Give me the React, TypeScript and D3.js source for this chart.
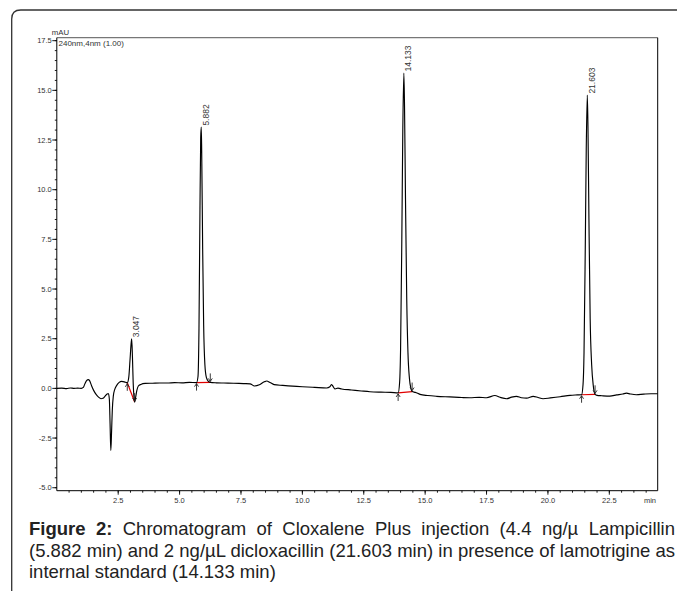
import React, { useLayoutEffect, useRef, useState } from 'react';
import * as d3 from 'd3';

const W = 677;
const H = 591;

// Chromatogram trace (minutes, mAU)
const TRACE_TIME = [
  0.0, 0.2, 0.4, 0.55, 0.7, 0.85, 1.0, 1.08, 1.15, 1.22, 1.28, 1.34, 1.42, 1.5, 1.6, 1.7, 1.8, 1.88, 1.96,
  2.05, 2.1, 2.14, 2.17, 2.2, 2.23, 2.26, 2.3, 2.36, 2.44, 2.54, 2.64, 2.75, 2.87, 2.93, 2.98, 3.03, 3.05,
  3.08, 3.11, 3.14, 3.17, 3.21, 3.26, 3.32, 3.42, 3.6, 3.9, 4.2, 4.5, 4.8, 5.1, 5.4, 5.69, 5.75, 5.79, 5.83,
  5.86, 5.882, 5.9, 5.94, 5.98, 6.03, 6.09, 6.17, 6.25, 6.5, 6.8, 7.2, 7.6, 7.87, 8.05, 8.25, 8.45, 8.55,
  8.68, 8.85, 9.2, 9.6, 10.0, 10.5, 10.99, 11.12, 11.19, 11.26, 11.33, 11.45, 11.6, 12.0, 12.4, 12.75,
  13.2, 13.6, 13.9, 13.96, 14.0, 14.05, 14.09, 14.133, 14.16, 14.2, 14.25, 14.3, 14.36, 14.42, 14.47,
  14.6, 14.79, 15.1, 15.47, 16.0, 16.5, 16.82, 17.2, 17.5, 17.84, 18.05, 18.32, 18.52, 18.72, 18.92,
  19.13, 19.4, 19.6, 19.8, 20.1, 20.5, 20.9, 21.2, 21.37, 21.43, 21.47, 21.52, 21.56, 21.603, 21.63,
  21.67, 21.72, 21.78, 21.85, 21.92, 22.0, 22.2, 22.52, 22.8, 23.05, 23.2, 23.35, 23.6, 23.9, 24.2, 24.47,
];
const TRACE_MAU = [
  0.0, 0.01, -0.01, 0.02, 0.0, 0.01, 0.0, 0.05, 0.25, 0.4, 0.44, 0.38, 0.12, -0.1, -0.3, -0.44, -0.52, -0.5, -0.4,
  -0.28, -0.26, -0.55, -1.8, -3.12, -2.2, -1.1, -0.4, -0.05, 0.15, 0.3, 0.35, 0.33, 0.28, 0.55, 1.4, 2.3, 2.5,
  1.6, 0.3, -0.4, -0.69, -0.45, -0.1, 0.12, 0.2, 0.25, 0.26, 0.27, 0.27, 0.29, 0.28, 0.3, 0.29, 0.6, 3.0, 9.0,
  12.6, 13.15, 12.0, 7.0, 3.2, 1.2, 0.55, 0.35, 0.3, 0.28, 0.27, 0.26, 0.24, 0.23, 0.12, 0.18, 0.33, 0.37,
  0.3, 0.19, 0.15, 0.11, 0.08, 0.05, 0.02, 0.08, 0.19, 0.08, -0.03, 0.01, -0.03, -0.08, -0.13, -0.17,
  -0.19, -0.2, -0.23, 0.3, 2.0, 7.5, 13.0, 15.87, 14.2, 9.5, 4.5, 1.8, 0.5, 0.0, -0.16,
  -0.2, -0.3, -0.36, -0.4, -0.43, -0.46, -0.47, -0.45, -0.47, -0.36, -0.45, -0.52, -0.44, -0.4, -0.47,
  -0.49, -0.4, -0.46, -0.52, -0.48, -0.42, -0.35, -0.33, -0.32, 0.2, 1.8, 7.0, 12.0, 14.76, 13.2,
  8.5, 3.5, 1.2, 0.1, -0.3, -0.35, -0.37, -0.39, -0.33, -0.28, -0.24, -0.28, -0.32, -0.29, -0.27, -0.27,
];

const PEAK_RT = [3.047, 5.882, 14.133, 21.603];
const PEAK_TOP = [2.5, 13.15, 15.87, 14.76];
const PEAK_LABELS = ['3.047', '5.882', '14.133', '21.603'];
const BASE_START_T = [2.87, 5.69, 13.9, 21.37];
const BASE_START_V = [0.28, 0.29, -0.23, -0.32];
const BASE_END_T = [3.17, 6.25, 14.47, 21.92];
const BASE_END_V = [-0.69, 0.3, -0.16, -0.3];

const Y_TICKS = [-5.0, -2.5, 0.0, 2.5, 5.0, 7.5, 10.0, 12.5, 15.0, 17.5];
const X_TICKS = [2.5, 5.0, 7.5, 10.0, 12.5, 15.0, 17.5, 20.0, 22.5];

const CAPTION_1_BOLD = 'Figure 2:';
const CAPTION_1 = ' Chromatogram of Cloxalene Plus injection (4.4 ng/µ Lampicillin';
const CAPTION_2 = '(5.882 min) and 2 ng/µL dicloxacillin (21.603 min) in presence of lamotrigine as';
const CAPTION_3 = 'internal standard (14.133 min)';

const FONT = '"Liberation Sans", Arial, Helvetica, sans-serif';

export default function App() {
  const x = d3.scaleLinear().domain([0, 24.47]).range([56.8, 657.7]);
  const y = d3.scaleLinear().domain([-5.15, 17.65]).range([490.7, 37.7]);
  const [x0, x1] = x.range();
  const [yb, yt] = y.range();

  const pts: [number, number][] = TRACE_TIME.map((t, i) => [t, TRACE_MAU[i]]);
  const line = d3
    .line<[number, number]>()
    .x((d) => x(d[0]))
    .y((d) => y(d[1]))
    .curveMonotoneX ? null : null;
  const path = d3
    .line<[number, number]>()
    .x((d) => x(d[0]))
    .y((d) => y(d[1]))
    .curve(d3.curveMonotoneX)(pts) as string;

  const yMinor = d3.range(-5.0, 17.51, 0.5);
  const xMinor = d3.range(0.5, 24.3, 0.5);

  const l1 = useRef<SVGTextElement>(null);
  const l2 = useRef<SVGTextElement>(null);
  const [ws, setWs] = useState<[number, number]>([0, 0]);
  const capX0 = 29;
  const capX1 = 675;
  useLayoutEffect(() => {
    const res: [number, number] = [0, 0];
    [l1, l2].forEach((r, i) => {
      const el = r.current;
      if (!el) return;
      const txt = el.textContent || '';
      const spaces = (txt.match(/ /g) || []).length;
      const w = el.getComputedTextLength();
      res[i] = spaces ? (capX1 - capX0 - w) / spaces : 0;
    });
    setWs(res);
  }, []);

  const tickFont = 7.5;

  return (
    <svg
      width={W}
      height={H}
      viewBox={`0 0 ${W} ${H}`}
      style={{ position: 'absolute', left: 0, top: 0, background: '#fff' }}
      fontFamily={FONT}
    >
      <rect x={0} y={0} width={W} height={H} fill="#fff" />
      {/* outer figure frame */}
      <path d={`M11.7,${H} L11.7,19 Q11.7,10 20.7,10 L${W},10`} fill="none" stroke="#333" strokeWidth={1.3} />

      {/* plot frame */}
      <line x1={x0} x2={x1} y1={yt} y2={yt} stroke="#777" strokeWidth={1.3} />
      <line x1={x1} x2={x1} y1={yt} y2={yb} stroke="#000" strokeWidth={1} />
      <line x1={x0} x2={x1} y1={yb} y2={yb} stroke="#000" strokeWidth={1} />
      <line x1={x0} x2={x0} y1={yt} y2={yb} stroke="#000" strokeWidth={1} />

      {/* y ticks */}
      {yMinor.map((v) => (
        <line key={'ym' + v} x1={x0 - 2} x2={x0} y1={y(v)} y2={y(v)} stroke="#000" strokeWidth={0.9} />
      ))}
      {Y_TICKS.map((v) => (
        <g key={'y' + v}>
          <line x1={x0 - 4.5} x2={x0} y1={y(v)} y2={y(v)} stroke="#000" strokeWidth={0.9} />
          <text x={x0 - 5} y={y(v) + 2.6} fontSize={tickFont} textAnchor="end" fill="#333">
            {v.toFixed(1)}
          </text>
        </g>
      ))}
      {/* x ticks */}
      {xMinor.map((v) => (
        <line key={'xm' + v} x1={x(v)} x2={x(v)} y1={yb} y2={yb + 2} stroke="#000" strokeWidth={0.9} />
      ))}
      {X_TICKS.map((v) => (
        <g key={'x' + v}>
          <line x1={x(v)} x2={x(v)} y1={yb} y2={yb + 4} stroke="#000" strokeWidth={0.9} />
          <text x={x(v)} y={yb + 12.5} fontSize={tickFont} textAnchor="middle" fill="#333">
            {v.toFixed(1)}
          </text>
        </g>
      ))}
      <text x={650} y={yb + 12.5} fontSize={tickFont} textAnchor="middle" fill="#333">
        min
      </text>
      <text x={51.7} y={35} fontSize={7.8} fill="#333">
        mAU
      </text>
      <text x={58.5} y={46.2} fontSize={8} fill="#333">
        240nm,4nm (1.00)
      </text>

      {/* red integration baselines */}
      {PEAK_RT.map((_, i) => (
        <line
          key={'b' + i}
          x1={x(BASE_START_T[i])}
          y1={y(BASE_START_V[i])}
          x2={x(BASE_END_T[i])}
          y2={y(BASE_END_V[i])}
          stroke="#e00000"
          strokeWidth={1.2}
        />
      ))}

      {/* trace */}
      <path d={path} fill="none" stroke="#000" strokeWidth={1.15} strokeLinejoin="round" />

      {/* integration markers */}
      {PEAK_RT.map((_, i) => {
        const sx = x(BASE_START_T[i]);
        const sy = y(BASE_START_V[i]);
        const ex = x(BASE_END_T[i]);
        const ey = y(BASE_END_V[i]);
        return (
          <g key={'m' + i} stroke="#222" strokeWidth={0.9} fill="none">
            <line x1={sx} x2={sx} y1={sy + 1} y2={sy + 8} />
            <polyline points={`${sx - 2},${sy + 4} ${sx},${sy + 1} ${sx + 2},${sy + 4}`} />
            <line x1={ex} x2={ex} y1={ey - 9} y2={ey - 1} />
            <polyline points={`${ex - 2},${ey - 4} ${ex},${ey - 1} ${ex + 2},${ey - 4}`} />
          </g>
        );
      })}

      {/* peak labels */}
      {PEAK_RT.map((t, i) => {
        const px = x(t) + 7.5;
        const py = y(PEAK_TOP[i]) - 1.5;
        return (
          <text
            key={'l' + i}
            transform={`translate(${px},${py}) rotate(-90)`}
            fontSize={8.5}
            fill="#333"
          >
            {PEAK_LABELS[i]}
          </text>
        );
      })}

      {/* caption */}
      <text ref={l1} x={capX0} y={535} fontSize={18.5} fill="#222" wordSpacing={ws[0]}>
        <tspan fontWeight="bold">{CAPTION_1_BOLD}</tspan>
        {CAPTION_1}
      </text>
      <text ref={l2} x={capX0} y={556.5} fontSize={18.5} fill="#222" wordSpacing={ws[1]}>
        {CAPTION_2}
      </text>
      <text x={capX0} y={578} fontSize={18.5} fill="#222">
        {CAPTION_3}
      </text>
    </svg>
  );
}
